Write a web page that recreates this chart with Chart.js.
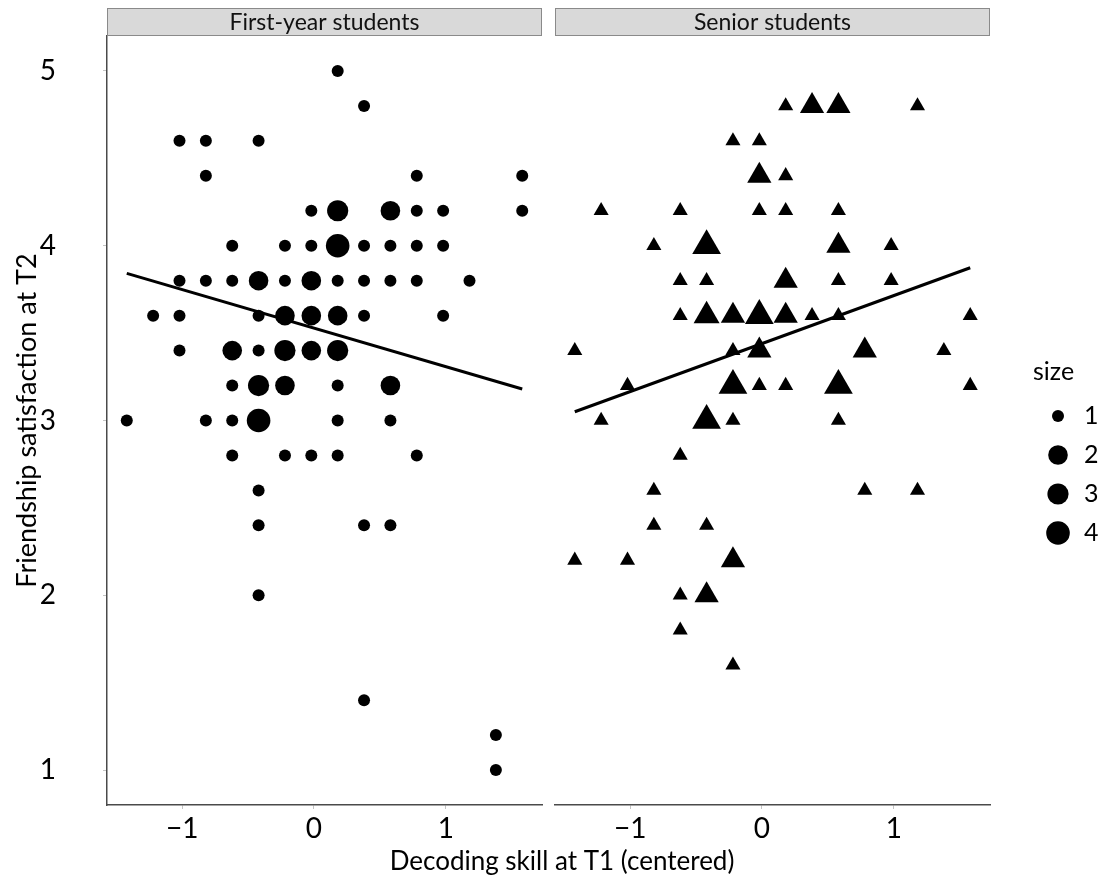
<!DOCTYPE html>
<html><head><meta charset="utf-8">
<script src="https://cdn.jsdelivr.net/npm/chart.js@4.4.1/dist/chart.umd.min.js"></script>
<style>
html,body{margin:0;padding:0;background:#fff;}
#wrap{position:relative;width:1116px;height:890px;}
canvas{position:absolute;left:0;top:0;}
</style></head><body>
<div id="wrap"><canvas id="c1" width="1116" height="890"></canvas><canvas id="c2" width="1116" height="890"></canvas></div>
<script>
// ---------- data ----------
const panelTitles = ["First-year students", "Senior students"];
const xTickValues = [-1, 0, 1];
const yTickValues = [1, 2, 3, 4, 5];
const sizeLevels = [1, 2, 3, 4];

const firstX = [0.18, 0.38, -1.02,-0.82,-0.42, -0.82,0.78,1.58,
  -0.02,0.18,0.58,0.78,0.98,1.58,
  -0.62,-0.22,-0.02,0.18,0.38,0.58,0.78,0.98,
  -1.02,-0.82,-0.62,-0.42,-0.22,-0.02,0.18,0.38,0.58,0.78,1.18,
  -1.22,-1.02,-0.42,-0.22,-0.02,0.18,0.38,0.98,
  -1.02,-0.62,-0.42,-0.22,-0.02,0.18,
  -0.62,-0.42,-0.22,0.18,0.58,
  -1.42,-0.82,-0.62,-0.42,0.18,0.58,
  -0.62,-0.22,-0.02,0.18,0.78,
  -0.42, -0.42,0.38,0.58, -0.42, 0.38, 1.38, 1.38];
const firstY = [5.0, 4.8, 4.6,4.6,4.6, 4.4,4.4,4.4,
  4.2,4.2,4.2,4.2,4.2,4.2,
  4.0,4.0,4.0,4.0,4.0,4.0,4.0,4.0,
  3.8,3.8,3.8,3.8,3.8,3.8,3.8,3.8,3.8,3.8,3.8,
  3.6,3.6,3.6,3.6,3.6,3.6,3.6,3.6,
  3.4,3.4,3.4,3.4,3.4,3.4,
  3.2,3.2,3.2,3.2,3.2,
  3.0,3.0,3.0,3.0,3.0,3.0,
  2.8,2.8,2.8,2.8,2.8,
  2.6, 2.4,2.4,2.4, 2.0, 1.4, 1.2, 1.0];
const firstSize = [1, 1, 1,1,1, 1,1,1,
  1,3,2,1,1,1,
  1,1,1,4,1,1,1,1,
  1,1,1,2,1,2,1,1,1,1,1,
  1,1,1,2,2,2,1,1,
  1,2,1,3,2,3,
  1,3,2,1,2,
  1,1,1,4,1,1,
  1,1,1,1,1,
  1, 1,1,1, 1, 1, 1, 1];

const seniorX = [0.18,0.38,0.58,1.18, -0.22,-0.02, -0.02,0.18,
  -1.22,-0.62,-0.02,0.18,0.58,
  -0.82,-0.42,0.58,0.98,
  -0.62,-0.42,0.18,0.58,0.98,
  -0.62,-0.42,-0.22,-0.02,0.18,0.38,0.58,1.58,
  -1.42,-0.22,-0.02,0.78,1.38,
  -1.02,-0.22,-0.02,0.18,0.58,1.58,
  -1.22,-0.42,-0.22,0.58,
  -0.62, -0.82,0.78,1.18, -0.82,-0.42,
  -1.42,-1.02,-0.22, -0.62,-0.42, -0.62, -0.22];
const seniorY = [4.8,4.8,4.8,4.8, 4.6,4.6, 4.4,4.4,
  4.2,4.2,4.2,4.2,4.2,
  4.0,4.0,4.0,4.0,
  3.8,3.8,3.8,3.8,3.8,
  3.6,3.6,3.6,3.6,3.6,3.6,3.6,3.6,
  3.4,3.4,3.4,3.4,3.4,
  3.2,3.2,3.2,3.2,3.2,3.2,
  3.0,3.0,3.0,3.0,
  2.8, 2.6,2.6,2.6, 2.4,2.4,
  2.2,2.2,2.2, 2.0,2.0, 1.8, 1.6];
const seniorSize = [1,2,2,1, 1,1, 2,1,
  1,1,1,1,1,
  1,4,2,1,
  1,1,2,1,1,
  1,3,2,4,2,1,1,1,
  1,1,2,2,1,
  1,4,1,1,4,1,
  1,4,1,1,
  1, 1,1,1, 1,1,
  1,1,2, 1,2, 1, 1];

// fitted regression lines (endpoints)
const fitX = [-1.42, 1.58];
const firstFitY = [3.842, 3.180];
const seniorFitY = [3.050, 3.874];

// ---------- styling ----------
const FONT = "Lato";
const circleR = {1: 6, 2: 9.8, 3: 10.6, 4: 11.8};
const triR = {1: 8.7, 2: 14, 3: 15, 4: 16.6};
const X_MIN = -1.57, X_MAX = 1.73, Y_MIN = 0.8, Y_MAX = 5.2;

function fmt(v){ return v < 0 ? "\u2212" + Math.abs(v) : String(v); }
function pts(xs, ys, ss){ return xs.map((x,i)=>({x:x, y:ys[i], s:ss[i]})); }

const stripPlugin = {
  id: 'strip',
  afterDraw(chart, args, opts){
    const ctx = chart.ctx, a = chart.chartArea;
    ctx.save();
    ctx.fillStyle = '#d9d9d9';
    ctx.fillRect(a.left, 8, a.right - a.left, 28);
    ctx.strokeStyle = '#8a8a8a'; ctx.lineWidth = 1;
    ctx.strokeRect(a.left + 0.5, 8.5, a.right - a.left - 1, 27);
    ctx.fillStyle = '#111';
    ctx.font = '23px ' + FONT;
    ctx.textAlign = 'center'; ctx.textBaseline = 'middle';
    ctx.fillText(opts.text, (a.left + a.right)/2, 23);
    if (opts.xTitle){
      ctx.font = '26px ' + FONT;
      ctx.fillStyle = '#000';
      ctx.fillText(opts.xTitle, 562, 862);
    }
    if (opts.legend){
      ctx.textAlign = 'left';
      ctx.font = '25px ' + FONT;
      ctx.fillStyle = '#000';
      ctx.fillText('size', 1033, 372);
      const ys = [416, 455, 494, 533];
      sizeLevels.forEach((lv, i)=>{
        ctx.beginPath(); ctx.arc(1058, ys[i], circleR[lv], 0, Math.PI*2); ctx.fill();
        ctx.fillText(String(lv), 1084, ys[i]);
      });
    }
    ctx.restore();
  }
};

function xScale(){
  return {
    type: 'linear', min: X_MIN, max: X_MAX,
    afterBuildTicks: s => { s.ticks = xTickValues.map(v=>({value:v})); },
    afterFit: s => { s.height = 85; s.paddingLeft = 0; s.paddingRight = 0; },
    grid: {display:true, drawOnChartArea:false, drawTicks:true, tickLength:4, color:'#c4c4c4', lineWidth:1},
    border: {display:true, color:'#4a4a4a', width:1.5},
    ticks: {font:{family:FONT, size:28}, color:'#000', padding:3, maxRotation:0, callback: v => fmt(v)}
  };
}

function makeChart(id, data, fit, pointStyle, rmap, pad, showY, stripOpts){
  return new Chart(document.getElementById(id), {
    type: 'scatter',
    data: {datasets: [
      {type:'scatter', data: data, pointStyle: pointStyle, backgroundColor:'#000', borderWidth:0, clip:false,
       pointRadius: c => rmap[c.raw.s], pointHoverRadius: c => rmap[c.raw.s], pointBorderWidth:0},
      {type:'line', data: fitX.map((x,i)=>({x:x, y:fit[i]})), borderColor:'#000', borderWidth:3, pointRadius:0, fill:false, clip:false}
    ]},
    options: {
      responsive:false, animation:false, events: [],
      layout: {padding: pad},
      plugins: {legend:{display:false}, tooltip:{enabled:false}, strip: stripOpts},
      scales: {
        x: xScale(),
        y: {
          type:'linear', min:Y_MIN, max:Y_MAX, display: showY,
          afterBuildTicks: s => { s.ticks = yTickValues.map(v=>({value:v})); },
          afterFit: s => { s.width = showY ? 107 : 0; s.paddingTop = 0; s.paddingBottom = 0; },
          grid: {display:true, drawOnChartArea:false, drawTicks:true, tickLength:4, color:'#c4c4c4', lineWidth:1},
          border: {display:true, color:'#4a4a4a', width:1.5},
          ticks: {font:{family:FONT, size:28}, color:'#000', padding:47, callback: v => fmt(v)},
          title: {display:true, text:'Friendship satisfaction at T2', color:'#000', font:{family:FONT, size:27}, padding:{top:11, bottom:0}}
        }
      }
    },
    plugins: [stripPlugin]
  });
}

function build(){
  makeChart('c1', pts(firstX, firstY, firstSize), firstFitY, 'circle', circleR,
    {left:0, top:36, right:1116-542, bottom:0}, true,
    {text: panelTitles[0], xTitle: 'Decoding skill at T1 (centered)'});
  makeChart('c2', pts(seniorX, seniorY, seniorSize), seniorFitY, 'triangle', triR,
    {left:555, top:36, right:1116-990, bottom:0}, false,
    {text: panelTitles[1], legend: true});
}
if (document.fonts && document.fonts.load) {
  Promise.all([document.fonts.load('20px Lato'), document.fonts.load('28px Lato')]).then(build, build);
} else build();
</script>
</body></html>
